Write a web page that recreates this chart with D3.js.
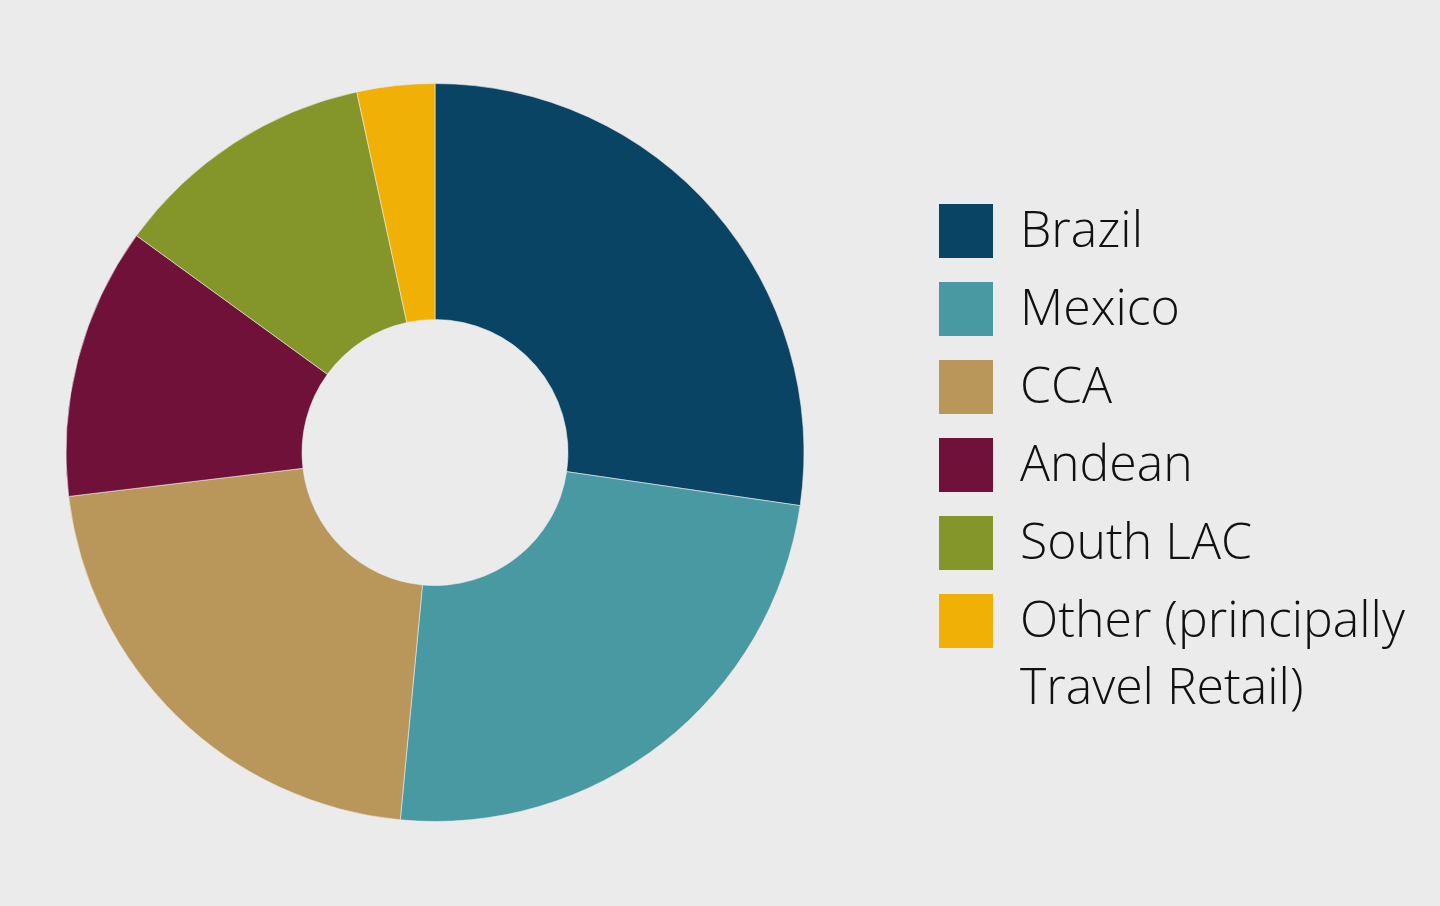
<!DOCTYPE html>
<html><head><meta charset="utf-8">
<script src="https://cdn.jsdelivr.net/npm/d3@7"></script>
<style>html,body{margin:0;padding:0;background:#ebebeb;}svg{display:block;}</style>
</head><body>
<svg id="c" width="1440" height="906"></svg>
<script>
const categories = ["Brazil","Mexico","CCA","Andean","South LAC","Other (principally Travel Retail)"];
const values = [27.3, 24.2, 21.6, 11.9, 11.6, 3.4];
const colors = ["#0a4465","#4899a2","#b9975b","#6f1139","#84962a","#f1b006"];
const legendLines = [["Brazil"],["Mexico"],["CCA"],["Andean"],["South LAC"],["Other (principally","Travel Retail)"]];

const svg = d3.select("#c");
svg.append("rect").attr("width",1440).attr("height",906).attr("fill","#ebebeb");
const cx = 435, cy = 452.5, outerR = 369, innerR = 133;
const data = categories.map((c,i)=>({name:c, value:values[i]}));
const pie = d3.pie().value(d=>d.value).sort(null);
const arc = d3.arc().innerRadius(innerR).outerRadius(outerR);
const color = d3.scaleOrdinal().domain(categories).range(colors);
svg.append("g").attr("transform",`translate(${cx},${cy})`)
  .selectAll("path").data(pie(data)).join("path")
  .attr("d",arc).attr("fill",d=>color(d.data.name))
  .attr("stroke","#ebebeb").attr("stroke-width",0.6);

const lx = 939, ly = 204, step = 78, sz = 54;
const lg = svg.append("g");
categories.forEach((c,i)=>{
  const g = lg.append("g").attr("transform",`translate(${lx},${ly+i*step})`);
  g.append("rect").attr("width",sz).attr("height",sz).attr("fill",color(c));
  legendLines[i].forEach((t,j)=>{
    g.append("text").attr("x",81).attr("y",43+j*67)
      .attr("font-family","'Open Sans', sans-serif").attr("font-weight",300)
      .attr("font-size",50).attr("fill","#111").text(t);
  });
});
</script>
</body></html>
